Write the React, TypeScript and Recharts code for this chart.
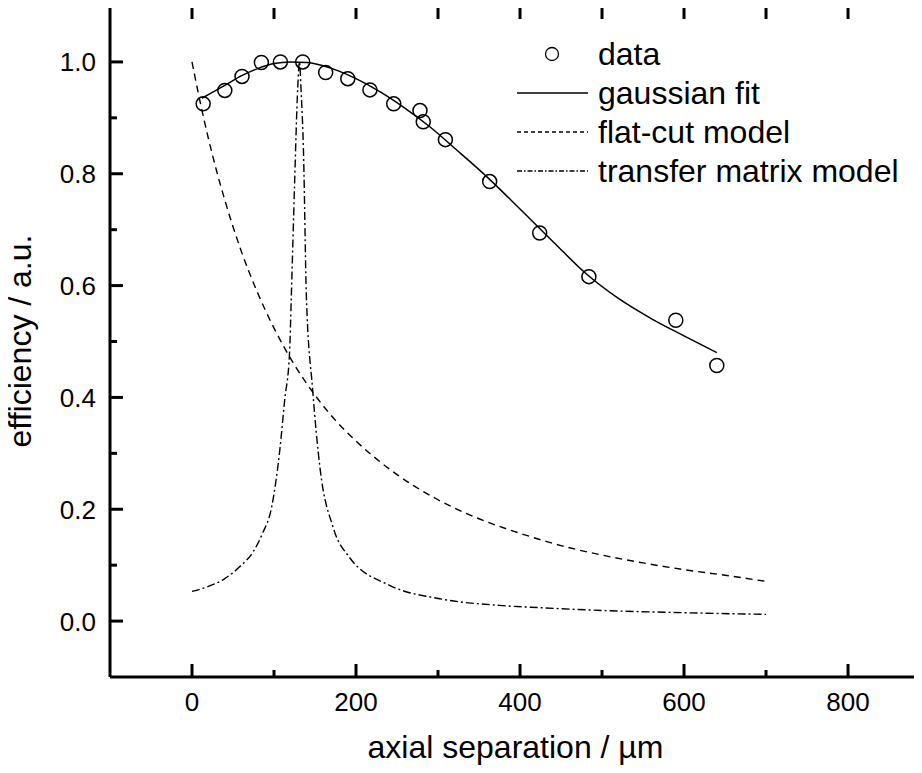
import React from "react";
import { ComposedChart, Line, Scatter, XAxis, YAxis } from "recharts";

const FONT = "'Liberation Sans', Arial, sans-serif";

// measured points
const dataX = [13.6, 40, 61, 84.6, 107.8, 135, 163, 190, 217, 246, 278, 282, 309, 363, 424, 484, 590, 640];
const dataY = [0.925, 0.949, 0.974, 0.999, 1.0, 1.0, 0.981, 0.97, 0.95, 0.925, 0.913, 0.893, 0.861, 0.786, 0.694, 0.616, 0.538, 0.457];

// gaussian fit
const fitX = [12, 40, 60, 80, 100, 120, 140, 160, 180, 200, 230, 260, 290, 320, 360, 400, 440, 480, 520, 560, 600, 640];
const fitY = [0.935, 0.958, 0.975, 0.988, 0.997, 1.0, 0.999, 0.993, 0.983, 0.97, 0.946, 0.917, 0.884, 0.846, 0.794, 0.737, 0.679, 0.622, 0.577, 0.541, 0.51, 0.48];

// flat-cut model
const flatX = [0, 10, 20, 30, 40, 60, 80, 100, 125, 150, 175, 200, 250, 300, 350, 400, 450, 500, 550, 600, 650, 700];
const flatY = [1.0, 0.928, 0.863, 0.805, 0.753, 0.662, 0.587, 0.524, 0.458, 0.404, 0.359, 0.322, 0.262, 0.217, 0.183, 0.157, 0.135, 0.118, 0.104, 0.092, 0.082, 0.071];

// transfer matrix model
const tmX = [0, 20, 40, 58, 75, 86, 97, 107, 113, 119, 121, 125, 129, 131, 133, 136, 139.5, 147, 156, 172, 192, 241, 302, 375, 424, 500, 600, 700];
const tmY = [0.053, 0.062, 0.076, 0.097, 0.125, 0.157, 0.203, 0.305, 0.395, 0.481, 0.575, 0.777, 0.956, 1.0, 0.95, 0.837, 0.58, 0.416, 0.275, 0.168, 0.114, 0.064, 0.04, 0.028, 0.024, 0.019, 0.015, 0.012];

const X_DOMAIN = [-100, 889];
const Y_DOMAIN = [-0.1, 1.1];
const xTicks = [0, 100, 200, 300, 400, 500, 600, 700, 800];
const yTicks = [0, 0.1, 0.2, 0.3, 0.4, 0.5, 0.6, 0.7, 0.8, 0.9, 1.0];
const xLabelTicks = [0, 200, 400, 600, 800];
const yLabelTicks = [0, 0.2, 0.4, 0.6, 0.8, 1.0];

const legendNames = ["data", "gaussian fit", "flat-cut model", "transfer matrix model"];

const zip = (xs: number[], ys: number[]) => xs.map((x, i) => ({ x, y: ys[i] }));
const points = zip(dataX, dataY);
const fit = zip(fitX, fitY);
const flat = zip(flatX, flatY);
const tm = zip(tmX, tmY);

// tick anchors on the four frame sides, placed through the chart scales
const bottomTicks = xTicks.map((x) => ({ x, y: Y_DOMAIN[0], major: x % 200 === 0 }));
const topTicks = xTicks.map((x) => ({ x, y: Y_DOMAIN[1], major: true }));
const leftTicks = yTicks.map((y) => ({ x: X_DOMAIN[0], y, major: Math.round(y * 10) % 2 === 0 }));
const rightTicks = yTicks.filter((y) => Math.round(y * 10) % 2 === 0).map((y) => ({ x: X_DOMAIN[1], y, major: true }));
const topFrame = [{ x: X_DOMAIN[0], y: Y_DOMAIN[1] }, { x: X_DOMAIN[1], y: Y_DOMAIN[1] }];

const W = 922;
const H = 773;
const LEFT = 110;
const TOP = 6;
const BOTTOM = H - 96;

const DASH = "7 5";
const DASHDOT = "8 3 2 3";
const M = 14;

const XLabel = (p: any) => (
  <text x={p.x} y={p.y + 20} textAnchor="middle" fontSize={26} fontFamily={FONT} fill="#000">
    {p.payload.value}
  </text>
);

const YLabel = (p: any) => (
  <text x={p.x} y={p.y + 9.5} textAnchor="end" fontSize={26} fontFamily={FONT} fill="#000">
    {Number(p.payload.value).toFixed(1)}
  </text>
);

const BottomMark = (p: any) => (
  <line x1={p.cx} x2={p.cx} y1={p.cy} y2={p.cy - (p.payload.major ? 13 : 7)} stroke="#000" strokeWidth={3} />
);
const TopMark = (p: any) => <line x1={p.cx} x2={p.cx} y1={p.cy} y2={p.cy + 13} stroke="#000" strokeWidth={3} />;
const LeftMark = (p: any) => (
  <line x1={p.cx} x2={p.cx + (p.payload.major ? 13 : 7)} y1={p.cy} y2={p.cy} stroke="#000" strokeWidth={3} />
);
const RightMark = (p: any) => <line x1={p.cx - 4} x2={p.cx + 2} y1={p.cy} y2={p.cy} stroke="#000" strokeWidth={3} />;

const OpenCircle = (p: any) => (
  <circle cx={p.cx} cy={p.cy} r={7} fill="none" stroke="#000" strokeWidth={1.5} />
);

const axisLine = { stroke: "#000", strokeWidth: 3 };

const LX = 505;
const LY = 28;
const LegendBox = () => (
  <div style={{ position: "absolute", left: LX, top: LY, width: 410, height: 165, pointerEvents: "none" }}>
    <svg width={410} height={165}>
      {legendNames.map((name, i) => {
        const cy = 54 - LY + i * 39;
        return (
          <g key={name}>
            {i === 0 && <circle cx={552 - LX} cy={cy} r={6.5} fill="none" stroke="#000" strokeWidth={1.3} />}
            {i === 1 && <line x1={517 - LX} x2={588 - LX} y1={cy} y2={cy} stroke="#000" strokeWidth={1.4} />}
            {i === 2 && <line x1={517 - LX} x2={588 - LX} y1={cy} y2={cy} stroke="#000" strokeWidth={1.4} strokeDasharray="4 3" />}
            {i === 3 && <line x1={517 - LX} x2={588 - LX} y1={cy} y2={cy} stroke="#000" strokeWidth={1.4} strokeDasharray="5 2 1.5 2" />}
            <text x={598 - LX} y={cy + 11} fontSize={32} fontFamily={FONT} fill="#000">
              {name}
            </text>
          </g>
        );
      })}
    </svg>
  </div>
);

export default function App() {
  return (
    <div style={{ position: "relative", width: W, height: H, margin: -8 }}>
      <ComposedChart width={W} height={H} margin={{ top: TOP, right: 1, bottom: 0, left: 0 }}>
        <XAxis
          type="number"
          dataKey="x"
          domain={X_DOMAIN}
          ticks={xLabelTicks}
          interval={0}
          tickLine={false}
          tickSize={0}
          tickMargin={M}
          tick={XLabel}
          axisLine={axisLine}
          height={H - BOTTOM}
          label={{ value: "axial separation / µm", position: "insideBottom", offset: 15, fontSize: 32, fontFamily: FONT, fill: "#000" }}
        />
        <YAxis
          type="number"
          dataKey="y"
          domain={Y_DOMAIN}
          ticks={yLabelTicks}
          interval={0}
          tickLine={false}
          tickSize={0}
          tickMargin={M}
          tick={YLabel}
          axisLine={axisLine}
          width={LEFT}
          label={{
            content: () => (
              <text x={31} y={341} transform="rotate(-90 31 341)" textAnchor="middle" fontSize={32} fontFamily={FONT} fill="#000">
                efficiency / a.u.
              </text>
            ),
          }}
        />
        <Line data={topFrame} dataKey="y" type="linear" stroke="#000" strokeWidth={3} dot={false} legendType="none" isAnimationActive={false} />
        <Scatter data={bottomTicks} dataKey="y" shape={BottomMark} legendType="none" isAnimationActive={false} />
        <Scatter data={topTicks} dataKey="y" shape={TopMark} legendType="none" isAnimationActive={false} />
        <Scatter data={leftTicks} dataKey="y" shape={LeftMark} legendType="none" isAnimationActive={false} />
        <Scatter data={rightTicks} dataKey="y" shape={RightMark} legendType="none" isAnimationActive={false} />
        <Line data={flat} dataKey="y" type="monotone" stroke="#000" strokeWidth={1.4} strokeDasharray={DASH} dot={false} isAnimationActive={false} />
        <Line data={tm} dataKey="y" type="monotone" stroke="#000" strokeWidth={1.4} strokeDasharray={DASHDOT} dot={false} isAnimationActive={false} />
        <Line data={fit} dataKey="y" type="monotone" stroke="#000" strokeWidth={1.5} dot={false} isAnimationActive={false} />
        <Scatter data={points} dataKey="y" shape={OpenCircle} isAnimationActive={false} />
      </ComposedChart>
      <LegendBox />
    </div>
  );
}
